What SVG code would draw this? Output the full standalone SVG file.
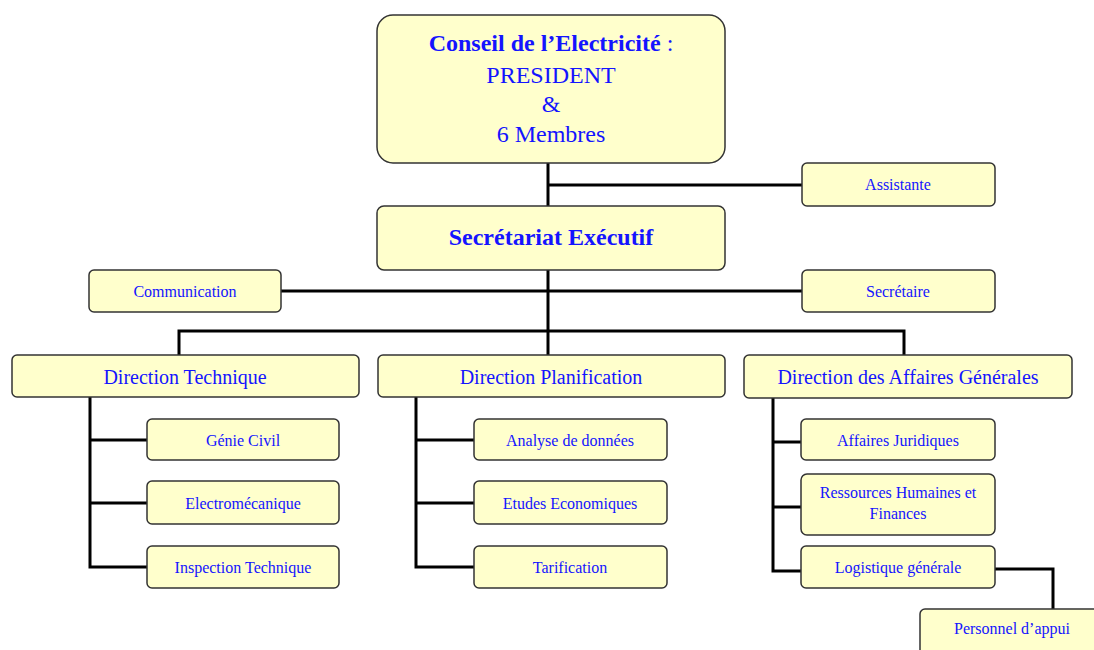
<svg xmlns="http://www.w3.org/2000/svg" width="1094" height="650" viewBox="0 0 1094 650">
<style>
.box{fill:#FFFFCC;stroke:#333;stroke-width:1.5}
.t{font-family:"Liberation Serif",serif;fill:#1414FF;text-anchor:middle}
.s{font-size:16px}
.d{font-size:20px}
.b{font-size:24px}
.c line,.c polyline{stroke:#000;stroke-width:3;fill:none}
</style>
<rect width="1094" height="650" fill="#fff"/>
<g class="c" id="connectors">
<line x1="548" y1="163" x2="548" y2="330"/>
<line x1="548" y1="185" x2="802" y2="185"/>
<line x1="281" y1="291" x2="802" y2="291"/>
<polyline points="179,355 179,331 904,331 904,355"/>
<line x1="548" y1="331" x2="548" y2="355"/>
<polyline points="90,397 90,567 147,567"/>
<line x1="90" y1="440" x2="147" y2="440"/>
<line x1="90" y1="503" x2="147" y2="503"/>
<polyline points="416,397 416,567 474,567"/>
<line x1="416" y1="440" x2="474" y2="440"/>
<line x1="416" y1="503" x2="474" y2="503"/>
<polyline points="773,398 773,571 801,571"/>
<line x1="773" y1="442" x2="801" y2="442"/>
<line x1="773" y1="507" x2="801" y2="507"/>
<polyline points="995,569 1053,569 1053,609"/>
</g>
<g id="conseil"><rect class="box" x="377" y="15" width="348" height="148" rx="16"/>
<text class="t b" x="551" y="51"><tspan font-weight="bold">Conseil de l’Electricité</tspan> :</text>
<text class="t b" x="551" y="83">PRESIDENT</text>
<text class="t b" x="551" y="112">&amp;</text>
<text class="t b" x="551" y="142">6 Membres</text></g>
<g id="assistante"><rect class="box" x="802" y="163" width="193" height="43" rx="5"/><text class="t s" x="898" y="190">Assistante</text></g>
<g id="secretariat"><rect class="box" x="377" y="206" width="348" height="64" rx="7"/><text class="t b" x="551" y="245" font-weight="bold">Secrétariat Exécutif</text></g>
<g id="communication"><rect class="box" x="89" y="270" width="192" height="42" rx="5"/><text class="t s" x="185" y="297">Communication</text></g>
<g id="secretaire"><rect class="box" x="802" y="270" width="193" height="42" rx="5"/><text class="t s" x="898" y="297">Secrétaire</text></g>
<g id="dir-tech"><rect class="box" x="12" y="355" width="347" height="42" rx="5"/><text class="t d" x="185" y="384">Direction Technique</text></g>
<g id="dir-plan"><rect class="box" x="378" y="355" width="347" height="42" rx="5"/><text class="t d" x="551" y="384">Direction Planification</text></g>
<g id="dir-ag"><rect class="box" x="744" y="355" width="328" height="43" rx="5"/><text class="t d" x="908" y="384">Direction des Affaires Générales</text></g>
<g id="genie"><rect class="box" x="147" y="419" width="192" height="41" rx="5"/><text class="t s" x="243" y="446">Génie Civil</text></g>
<g id="electro"><rect class="box" x="147" y="481" width="192" height="43" rx="5"/><text class="t s" x="243" y="509">Electromécanique</text></g>
<g id="inspection"><rect class="box" x="147" y="546" width="192" height="42" rx="5"/><text class="t s" x="243" y="573">Inspection Technique</text></g>
<g id="analyse"><rect class="box" x="474" y="419" width="193" height="41" rx="5"/><text class="t s" x="570" y="446">Analyse de données</text></g>
<g id="etudes"><rect class="box" x="474" y="481" width="193" height="43" rx="5"/><text class="t s" x="570" y="509">Etudes Economiques</text></g>
<g id="tarif"><rect class="box" x="474" y="546" width="193" height="42" rx="5"/><text class="t s" x="570" y="573">Tarification</text></g>
<g id="juridiques"><rect class="box" x="801" y="419" width="194" height="41" rx="5"/><text class="t s" x="898" y="446">Affaires Juridiques</text></g>
<g id="rh"><rect class="box" x="801" y="474" width="194" height="61" rx="6"/><text class="t s" x="898" y="498">Ressources Humaines et</text><text class="t s" x="898" y="519">Finances</text></g>
<g id="logistique"><rect class="box" x="801" y="546" width="194" height="42" rx="5"/><text class="t s" x="898" y="573">Logistique générale</text></g>
<g id="personnel"><rect class="box" x="920" y="609" width="190" height="50" rx="5"/><text class="t s" x="1012" y="634">Personnel d’appui</text></g>
</svg>
